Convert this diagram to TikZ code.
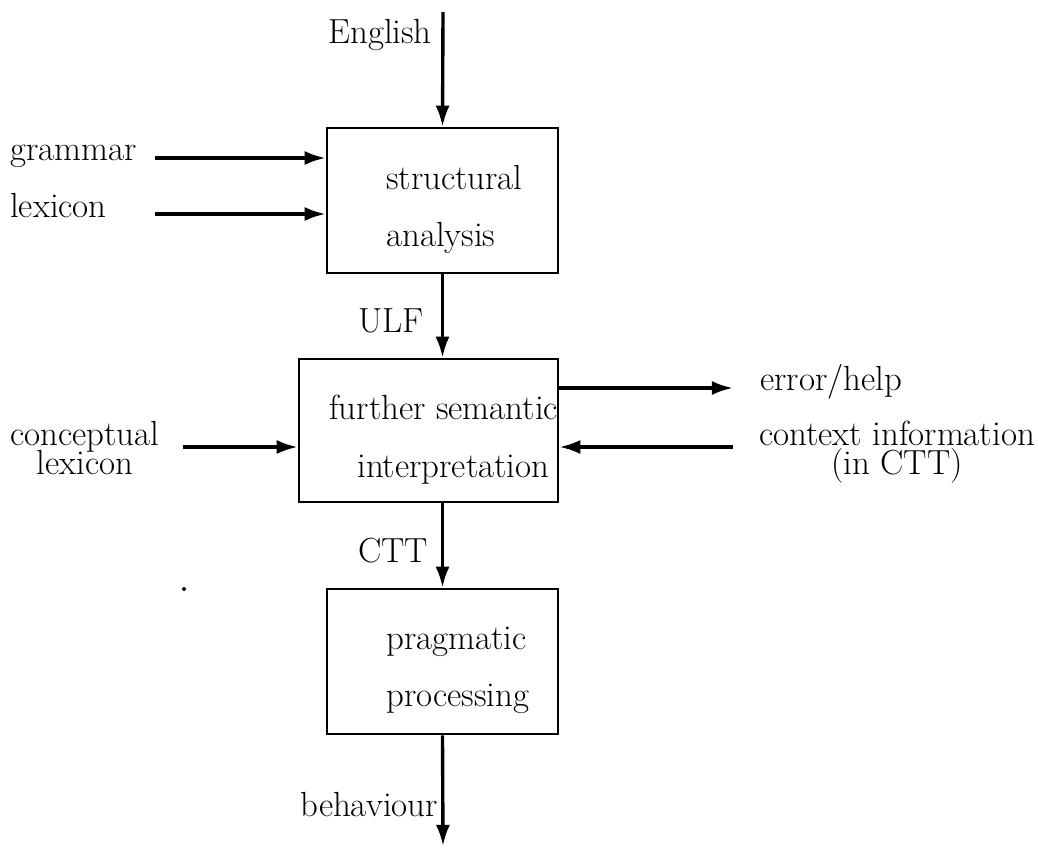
\documentclass[tikz,border=0pt]{standalone}
\usepackage{tikz}
\usetikzlibrary{positioning}
\usetikzlibrary{calc}
\usetikzlibrary{arrows.meta}

\begin{document}
\begin{tikzpicture}[x=0.025cm, y=-0.025cm, every node/.style={font=\fontsize{24.8}{30}\selectfont, inner sep=0pt},
    stage/.style={draw, line width=1.8pt, rectangle},
    flow/.style={line width=2.4pt, -{Latex[length=15pt, width=10pt]}},
    txt/.style={anchor=base west}]
        \useasboundingbox (0,0) rectangle (1038,848);

        % the three processing stages
        \node[stage, minimum width=231*0.025cm, minimum height=145*0.025cm] (S) at (442.5,200.5) {};
        \node[stage, minimum width=259*0.025cm, minimum height=143*0.025cm] (F) at (428.5,430.5) {};
        \node[stage, minimum width=231*0.025cm, minimum height=145*0.025cm] (P) at (442.5,661.5) {};

        \node[txt] (s1) at (386,189) {structural};
        \node[txt] (s2) at (386,246) {analysis};
        \node[txt] (f1) at (329,419) {further semantic};
        \node[txt] (f2) at (357,477) {interpretation};
        \node[txt] (p1) at (386,649) {pragmatic};
        \node[txt] (p2) at (386,706) {processing};

        % free ends of the connectors
        \coordinate (top) at (443,12);
        \coordinate (bot) at (443,846);
        \coordinate (g) at (155,158);
        \coordinate (l) at (155,214);
        \coordinate (c) at (183,447);
        \coordinate (e) at (733,388);
        \coordinate (x) at (733,447);

        % main line
        \draw[flow] (top) -- (S.north);
        \draw[flow] (S.south) -- (S.south |- F.north);
        \draw[flow] (P.north |- F.south) -- (P.north);
        \draw[flow] (P.south) -- (bot);

        % side inputs and outputs
        \draw[flow] (g) -- (g -| S.west);
        \draw[flow] (l) -- (l -| S.west);
        \draw[flow] (c) -- (c -| F.west);
        \draw[flow] (e -| F.east) -- (e);
        \draw[flow] (x) -- (x -| F.east);

        \node[txt] (en) at (328,43) {English};
        \node[txt] (gr) at (10,160) {grammar};
        \node[txt] (lx) at (10,217) {lexicon};
        \node[txt] (ulf) at (358,332) {ULF};
        \node[txt] (ctt) at (358,562) {CTT};
        \node[txt] (beh) at (300,816) {behaviour};
        \node[txt] (err) at (760,390) {error/help};
        \node[anchor=base, align=center] (cl) at (85,474) {conceptual\\[-10pt]lexicon};
        \node[anchor=base, align=center] (ci) at (897,474) {context information\\[-10pt](in CTT)};

        \fill (184,589) circle (2);
\end{tikzpicture}
\end{document}
